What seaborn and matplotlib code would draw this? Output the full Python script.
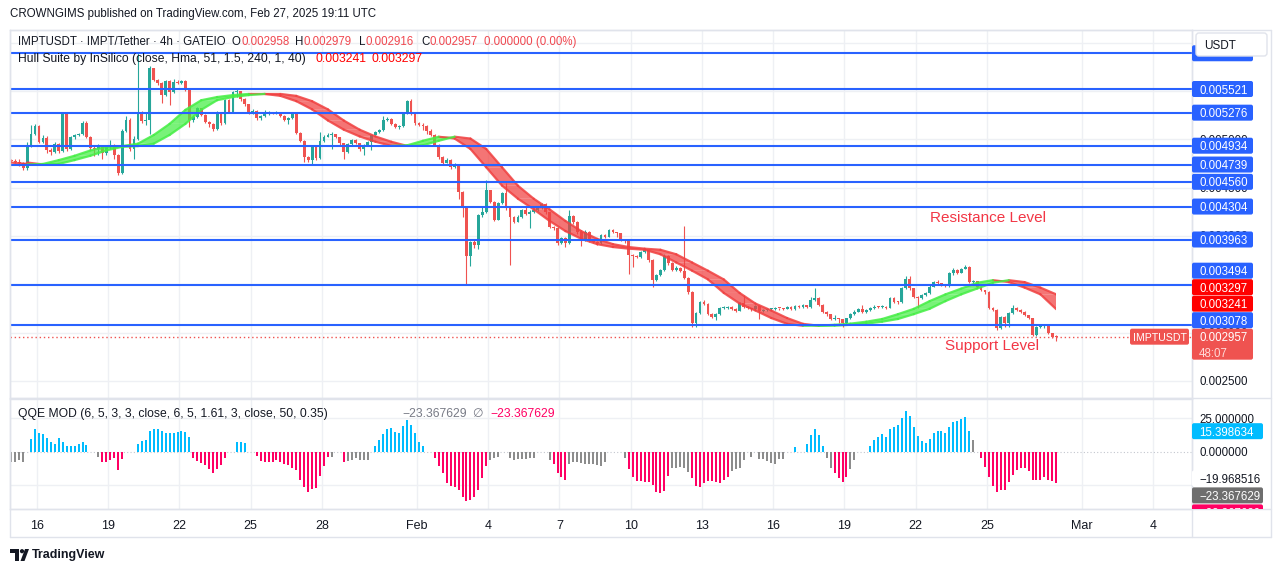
import numpy as np
import pandas as pd
import matplotlib
matplotlib.use("Agg")
import matplotlib.pyplot as plt
import matplotlib.dates as mdates
from matplotlib.patches import Rectangle, FancyBboxPatch, Polygon, Circle
from matplotlib.transforms import Bbox
import seaborn as sns

sns.set_theme(style="white")
plt.rcParams["font.family"] = ["Liberation Sans", "DejaVu Sans"]

# ---------------------------------------------------------------- data
SYMBOL = "IMPTUSDT"
bar_start = "2025-01-14 20:00"        # first 4h candle (open time)
PRICE_UNIT = 1e-6                     # candle / hull values are in millionths of USDT
first_open = 4790

closes = [
    4780, 4770, 4760, 4700, 4930, 5055, 5141, 4976, 5017, 4889,
    4870, 4951, 4882, 5279, 4900, 5020, 5040, 5055, 5172, 5027,
    4906, 4896, 4931, 4855, 4917, 4941, 4838, 4648, 5089, 5200,
    4900, 5000, 5269, 5190, 5200, 5735, 5614, 5580, 5460, 5600,
    5490, 5597, 5580, 5600, 5517, 5200, 5235, 5320, 5252, 5183,
    5158, 5110, 5276, 5165, 5407, 5286, 5493, 5500, 5420, 5365,
    5276, 5296, 5217, 5240, 5270, 5275, 5270, 5280, 5245, 5200,
    5225, 5260, 5069, 4982, 4820, 4786, 4924, 4803, 4982, 5027,
    5045, 5050, 5020, 4958, 4865, 4951, 4993, 4960, 4896, 4941,
    4975, 5045, 5080, 5096, 5200, 5210, 5160, 5130, 5140, 5269,
    5400, 5258, 5165, 5150, 5140, 5086, 5045, 4940, 4820, 4760,
    4790, 4710, 4730, 4458, 4303, 3792, 3940, 3906, 4216, 4251,
    4475, 4354, 4165, 4338, 4440, 4285, 4200, 4147, 4200, 4270,
    4230, 4250, 4270, 4290, 4330, 4245, 4096, 4080, 3924, 3975,
    3930, 4210, 4140, 4037, 3958, 4044, 3948, 3940, 3924, 4010,
    3993, 4062, 4037, 4027, 3958, 3950, 3803, 3790, 3785, 3830,
    3855, 3750, 3540, 3595, 3648, 3792, 3717, 3648, 3672, 3640,
    3560, 3416, 3095, 3199, 3313, 3300, 3190, 3165, 3190, 3250,
    3255, 3260, 3240, 3225, 3303, 3260, 3250, 3240, 3275, 3220,
    3235, 3240, 3245, 3250, 3250, 3245, 3268, 3240, 3278, 3265,
    3285, 3260, 3337, 3360, 3285, 3216, 3189, 3137, 3140, 3137,
    3095, 3147, 3189, 3216, 3244, 3215, 3230, 3251, 3268, 3260,
    3268, 3255, 3361, 3320, 3315, 3465, 3555, 3458, 3372, 3360,
    3389, 3406, 3475, 3520, 3510, 3495, 3480, 3613, 3648, 3620,
    3660, 3680, 3520, 3530, 3475, 3440, 3420, 3250, 3233, 3045,
    3164, 3100, 3200, 3250, 3235, 3215, 3180, 3150, 2975, 3060,
    3065, 3075, 2990, 2958, 2957,
]
highs = [
    4800, 4795, 4800, 4770, 4976, 5150, 5160, 5150, 5040, 5030,
    4910, 4970, 4960, 5285, 5285, 5030, 5060, 5070, 5185, 5190,
    5035, 4930, 4950, 4945, 4930, 4990, 4950, 4850, 5110, 5240,
    5220, 5030, 5900, 5290, 5280, 5760, 5740, 5625, 5590, 5610,
    5610, 5620, 5610, 5615, 5610, 5530, 5250, 5330, 5325, 5260,
    5190, 5165, 5290, 5280, 5420, 5415, 5505, 5520, 5505, 5430,
    5370, 5310, 5300, 5250, 5300, 5290, 5285, 5295, 5285, 5250,
    5235, 5275, 5265, 5075, 4990, 4830, 4940, 4930, 5072, 5040,
    5070, 5080, 5060, 5025, 4965, 4960, 5005, 5000, 4965, 4950,
    4985, 5060, 5090, 5110, 5240, 5230, 5220, 5170, 5150, 5280,
    5410, 5420, 5265, 5175, 5170, 5150, 5110, 5060, 4950, 4830,
    4810, 4800, 4760, 4740, 4470, 4310, 3950, 3960, 4230, 4300,
    4579, 4480, 4360, 4350, 4450, 4551, 4290, 4210, 4215, 4280,
    4300, 4270, 4285, 4310, 4345, 4340, 4250, 4105, 4090, 3990,
    3985, 4269, 4215, 4150, 4045, 4060, 4050, 3960, 3950, 4020,
    4020, 4075, 4070, 4045, 4035, 3965, 3960, 3815, 3800, 3840,
    3870, 3865, 3760, 3610, 3660, 3810, 3800, 3725, 3690, 3680,
    4103, 3570, 3425, 3210, 3325, 3340, 3310, 3200, 3200, 3260,
    3275, 3270, 3275, 3250, 3315, 3390, 3270, 3255, 3290, 3280,
    3245, 3250, 3255, 3262, 3258, 3258, 3278, 3275, 3290, 3285,
    3295, 3290, 3370, 3465, 3365, 3295, 3225, 3195, 3180, 3150,
    3145, 3155, 3200, 3230, 3255, 3280, 3245, 3265, 3280, 3275,
    3280, 3275, 3370, 3370, 3330, 3475, 3590, 3580, 3465, 3380,
    3400, 3420, 3490, 3530, 3540, 3515, 3500, 3625, 3665, 3655,
    3670, 3700, 3690, 3545, 3535, 3480, 3445, 3425, 3260, 3240,
    3175, 3170, 3210, 3290, 3260, 3240, 3220, 3185, 3155, 3070,
    3080, 3085, 3080, 2995, 2979,
]
lows = [
    4760, 4750, 4720, 4680, 4680, 4920, 5040, 4960, 4960, 4855,
    4840, 4860, 4860, 4870, 4880, 4890, 5000, 5030, 5040, 5010,
    4890, 4830, 4840, 4800, 4840, 4900, 4800, 4630, 4640, 5080,
    4880, 4800, 4990, 5170, 5150, 5050, 5600, 5560, 5375, 5450,
    5360, 5480, 5570, 5575, 5500, 5130, 5180, 5225, 5240, 5170,
    5130, 5090, 5100, 5150, 5155, 5270, 5280, 5440, 5400, 5350,
    5260, 5265, 5200, 5205, 5230, 5255, 5260, 5265, 5230, 5190,
    5160, 5215, 5060, 4970, 4769, 4770, 4734, 4790, 4795, 4975,
    5020, 4900, 5010, 4945, 4800, 4855, 4945, 4950, 4880, 4840,
    4935, 4890, 5040, 5070, 5090, 5185, 5150, 5120, 5110, 5130,
    5260, 5250, 5150, 5140, 5100, 5060, 5030, 4930, 4800, 4740,
    4750, 4690, 4700, 4378, 4200, 3502, 3692, 3880, 3860, 4200,
    4240, 4340, 4150, 4160, 4330, 4270, 3700, 4130, 4140, 4190,
    4215, 4080, 4240, 4260, 4280, 4230, 4080, 4060, 3910, 3915,
    3889, 3920, 4120, 4025, 3900, 3950, 3935, 3925, 3910, 3915,
    3980, 3985, 4030, 3990, 3945, 3930, 3606, 3680, 3770, 3775,
    3820, 3735, 3470, 3530, 3585, 3640, 3700, 3635, 3640, 3625,
    3550, 3400, 3060, 3060, 3190, 3285, 3180, 3150, 3130, 3180,
    3240, 3240, 3230, 3215, 3220, 3250, 3240, 3225, 3235, 3140,
    3210, 3225, 3230, 3235, 3235, 3235, 3240, 3230, 3235, 3255,
    3258, 3250, 3255, 3330, 3275, 3205, 3175, 3130, 3130, 3100,
    3060, 3090, 3140, 3180, 3210, 3205, 3205, 3225, 3245, 3250,
    3255, 3245, 3250, 3310, 3300, 3310, 3455, 3440, 3360, 3250,
    3350, 3380, 3400, 3470, 3500, 3485, 3470, 3475, 3600, 3610,
    3615, 3655, 3510, 3515, 3465, 3430, 3400, 3240, 3220, 3030,
    3040, 3060, 3060, 3190, 3225, 3205, 3170, 3140, 2960, 2960,
    3050, 3045, 2980, 2945, 2916,
]

# Hull Suite (HMA 51) centre line, read every 4th bar
hull_step = 4
hull_values = [
    4760, 4740, 4745, 4785, 4830, 4885, 4922, 4930, 4955, 5045,
    5160, 5305, 5405, 5438, 5458, 5470, 5470, 5450, 5395, 5310,
    5195, 5100, 5030, 4975, 4932, 4938, 4985, 5027, 5008, 4900,
    4710, 4520, 4385, 4275, 4155, 4050, 3970, 3915, 3885, 3868,
    3857, 3810, 3725, 3640, 3550, 3410, 3300, 3228, 3150, 3090,
    3070, 3071, 3080, 3092, 3112, 3140, 3190, 3245, 3325, 3395,
    3455, 3515, 3542, 3522, 3465, 3395, 3241,
]
hull_labels = [0.003297, 0.003241]

# horizontal support / resistance lines (the top one's label sits under the currency box)
hidden_level = 0.005891
level_prices = [0.005521, 0.005276, 0.004934, 0.004739,
                0.004560, 0.004304, 0.003963, 0.003494, 0.003078]
last_price = 0.002957
countdown = "48:07"
price_ticks = [0.0025, 0.0030, 0.0035, 0.0040, 0.0045, 0.0050, 0.0055, 0.0060]

# QQE MOD histogram (runs of colour / values, 4h bars)
qqe_runs = [
    ("g", [-8, -7.5, -6, -8]), ("-", 1),
    ("b", [9.6, 17, 14, 13, 10.4, 7, 6, 10, 7.6, 4.5, 4.5, 4.5, 5.6, 7.6, 5.3]), ("-", 2),
    ("g", [-4]), ("r", [-7.6, -7.6, -6.5, -5, -14, -5.5]), ("-", 3),
    ("b", [5.6, 8.3, 8.8, 15.2, 17.2, 17.2, 15.2, 13.9, 13.9, 13.9, 14.6, 15.2, 14.6, 11.1]),
    ("r", [-5, -7, -8.5, -10, -13, -16, -13, -10, -4.5]), ("-", 2),
    ("b", [7, 7, 6.5]), ("-", 2),
    ("r", [-3, -7, -7.5, -7.5, -7.5, -6, -7.5, -9, -10, -12, -14, -21, -26.5, -30, -28, -27, -18, -11, -4]),
    ("g", [-4]), ("-", 2), ("r", [-8]), ("g", [-7, -6.5, -5, -6.3, -6.3, -6.3]), ("-", 1),
    ("b", [4, 9, 13, 17, 18, 15, 14, 19, 23.5, 20, 14, 7.6, 4]), ("-", 2),
    ("r", [-5, -11, -16, -23.5, -26, -26.5, -29, -34, -37, -36, -34, -29, -20, -11]),
    ("g", [-6, -5, -4]), ("-", 2), ("g", [-5, -6.3, -5.8, -5.6, -5.3, -5, -4.5]), ("-", 3),
    ("g", [-6]), ("r", [-9, -16, -19, -21]),
    ("g", [-9.5, -7.5, -8, -8.5, -9, -9, -9.5, -10, -11, -7.5]), ("-", 4),
    ("g", [-5]), ("r", [-13, -19, -22, -22, -22.7, -22.7, -25, -30, -31, -29.5, -18.4]),
    ("g", [-12, -12, -11.4, -12, -15]),
    ("r", [-19.7, -25.8, -26.5, -23.5, -22, -22, -22.7, -23.5, -21, -19]),
    ("g", [-14.4, -13, -11.9, -6.3]), ("-", 1), ("g", [-3.8]), ("-", 1),
    ("g", [-5.6, -5.6, -6.8, -8.3, -9.3, -5.8, -5.6]), ("-", 2), ("b", [3.3]), ("-", 2),
    ("b", [5.8, 12.6, 16.9, 12.6, 4.3]), ("g", [-4.5, -12]), ("r", [-16, -19.7, -22.7, -19]),
    ("g", [-13, -6.3]), ("-", 3),
    ("b", [4.3, 8.8, 10.9, 13.4, 10.9, 16.9, 18.4, 20.2, 25.3, 30.8, 27, 18.4, 11.9, 8.1,
           6.8, 9.3, 13.9, 15.7, 15.7, 13.9, 18.4, 22.5, 23.2, 24.5, 26, 15.7]),
    ("g", [8.8]), ("-", 1),
    ("r", [-5, -11.4, -19, -25.3, -30.3, -28.3, -28.3, -22.7, -17.7, -13.9, -12, -12, -14.4,
           -21, -21.5, -21.5, -19, -21, -22, -23.4]),
]
qqe_ticks = [25, 0]
qqe_upper_label = 15.398634
qqe_line_label = -19.968516
qqe_last = -23.367629

tick_dates = ["2025-01-16", "2025-01-19", "2025-01-22", "2025-01-25", "2025-01-28",
              "2025-02-01", "2025-02-04", "2025-02-07", "2025-02-10", "2025-02-13",
              "2025-02-16", "2025-02-19", "2025-02-22", "2025-02-25", "2025-03-01",
              "2025-03-04"]
tick_labels = ["16", "19", "22", "25", "28", "Feb", "4", "7", "10", "13", "16", "19",
               "22", "25", "Mar", "4"]
view_start, view_end = "2025-01-14 20:43", "2025-03-05 15:10"

# ---------------------------------------------------------------- style
W, H = 1281, 573
UP, DN = "#26a69a", "#ef5350"
BLUE = "#2962ff"
HULL_UP, HULL_DN = "#45ee45", "#f04040"
GRID = "#eef0f4"
BORDER = "#e0e3eb"
TXT = "#131722"
Q_COL = {"b": "#00bcff", "r": "#ff0063", "g": "#8c8c8c"}

fig = plt.figure(figsize=(W / 100, H / 100), dpi=100, facecolor="white")


def frac_rect(x0, y0, x1, y1):
    return [x0 / W, 1 - y1 / H, (x1 - x0) / W, (y1 - y0) / H]


PT, PB, QT, QB, XL, XR = 30, 398, 399, 509, 10, 1192
ax = fig.add_axes(frac_rect(XL, PT, XR, PB))
axq = fig.add_axes(frac_rect(XL, QT, XR, QB), sharex=ax)
ov = fig.add_axes([0, 0, 1, 1])
ov.set_xlim(0, W)
ov.set_ylim(H, 0)
ov.axis("off")
ov.patch.set_visible(False)
ov.set_zorder(10)

P_LIM = (0.0023222, 0.0061318)
Q_LIM = (-42.9, 39.5)

# ---------------------------------------------------------------- time axis
opens_t = pd.date_range(bar_start, periods=len(closes), freq="4h")
t = mdates.date2num((opens_t + pd.Timedelta(hours=2)).to_pydatetime())
bar_w = (4 / 24) * 0.72
x0v = mdates.date2num(pd.Timestamp(view_start).to_pydatetime())
x1v = mdates.date2num(pd.Timestamp(view_end).to_pydatetime())
tick_num = mdates.date2num(pd.to_datetime(tick_dates).to_pydatetime())

for a in (ax, axq):
    a.set_xlim(x0v, x1v)
    a.set_facecolor("white")
    for s in a.spines.values():
        s.set_color(BORDER)
        s.set_linewidth(1)
    a.tick_params(left=False, right=False, labelleft=False, labelright=False)
    for tn in tick_num:
        a.axvline(tn, color=GRID, lw=1, zorder=0)
ax.set_ylim(*P_LIM)
axq.set_ylim(*Q_LIM)
ax.tick_params(bottom=False, labelbottom=False)
for v in price_ticks:
    ax.axhline(v, color=GRID, lw=1, zorder=0)

# ---------------------------------------------------------------- candles
c = np.array(closes) * PRICE_UNIT
o = np.concatenate([[first_open * PRICE_UNIT], c[:-1]])
hi = np.array(highs) * PRICE_UNIT
lo = np.array(lows) * PRICE_UNIT
col = np.where(c > o, UP, DN)
one_px = (P_LIM[1] - P_LIM[0]) / (PB - PT)
body_h = np.maximum(np.abs(c - o), one_px)
ax.vlines(t, lo, hi, colors=col, lw=0.8, zorder=2)
ax.bar(t, body_h, bottom=np.minimum(o, c), width=bar_w, color=col, edgecolor="none", zorder=2)

# ---------------------------------------------------------------- hull band
th = t[::hull_step]
hv = np.array(hull_values) * PRICE_UNIT
lag = hull_step * 4 / 24  # band offset (bars shifted)
clip_rect = Rectangle((x0v, P_LIM[0]), t[-1] - x0v, P_LIM[1] - P_LIM[0], transform=ax.transData)
rows = []
for k in range(len(hv) - 1):
    d = "up" if hv[k + 1] > hv[k] else "down"
    colr = HULL_UP if d == "up" else HULL_DN
    polys = ax.fill([th[k], th[k + 1], th[k + 1] + lag, th[k] + lag],
                    [hv[k], hv[k + 1], hv[k + 1], hv[k]], color=colr, alpha=0.72, lw=0, zorder=3)
    for p in polys:
        p.set_clip_path(clip_rect)
    rows += [dict(t=th[k], h=hv[k], seg=k, dir=d), dict(t=th[k + 1], h=hv[k + 1], seg=k, dir=d),
             dict(t=th[k] + lag, h=hv[k], seg=1000 + k, dir=d),
             dict(t=th[k + 1] + lag, h=hv[k + 1], seg=1000 + k, dir=d)]
edge_df = pd.DataFrame(rows)
n_before = len(ax.lines)
sns.lineplot(data=edge_df, x="t", y="h", hue="dir", units="seg", estimator=None, sort=False,
             palette={"up": HULL_UP, "down": HULL_DN}, legend=False, linewidth=1.6, ax=ax, zorder=3)
for ln in ax.lines[n_before:]:
    ln.set_clip_path(clip_rect)
    ln.set_alpha(0.85)
ax.set_xlabel("")
ax.set_ylabel("")

# ---------------------------------------------------------------- levels
for lv in [hidden_level] + level_prices:
    ax.axhline(lv, color=BLUE, lw=1.5, zorder=4)
ax.axhline(last_price, color=DN, lw=1, ls=(0, (1, 2)), zorder=4)

# ---------------------------------------------------------------- QQE histogram
q_vals, q_cols = [], []
for code, vals in qqe_runs:
    if code == "-":
        q_vals += [np.nan] * vals
        q_cols += ["none"] * vals
    else:
        q_vals += vals
        q_cols += [Q_COL[code]] * len(vals)
q_vals = np.array(q_vals, dtype=float)
tq = t[:len(q_vals)]
m = ~np.isnan(q_vals)
axq.bar(tq[m], q_vals[m], width=(4 / 24) * 0.5, color=np.array(q_cols)[m], edgecolor="none", zorder=2)
axq.axhline(0, color="#c3c6ce", lw=0.8, ls=(0, (1, 2)), zorder=1)
for v in (25, -25):
    axq.axhline(v, color=GRID, lw=1, zorder=0)
axq.set_xticks(tick_num)
axq.set_xticklabels(tick_labels, fontsize=9, color=TXT)
axq.tick_params(axis="x", length=0, pad=8, bottom=True, labelbottom=True)
axq.set_xlim(x0v, x1v)

# ---------------------------------------------------------------- overlay (pixel coords)
def py_price(v):
    return PT + (P_LIM[1] - v) / (P_LIM[1] - P_LIM[0]) * (PB - PT)


def py_qqe(v):
    return QT + (Q_LIM[1] - v) / (Q_LIM[1] - Q_LIM[0]) * (QB - QT)


# frame lines
for (xa, ya, xb, yb) in [(XL, PT, 1271, PT), (XL, PB, 1271, PB), (XL, QB, 1271, QB),
                         (XL, 537, 1271, 537), (XL, PT, XL, 537), (XR, PT, XR, 537),
                         (1271, PT, 1271, 537)]:
    ov.plot([xa, xb], [ya, yb], color=BORDER, lw=1, zorder=1)

ov.text(10, 14, "CROWNGIMS published on TradingView.com, Feb 27, 2025 19:11 UTC",
        fontsize=8.3, color=TXT, va="center", ha="left")

RED_T = "#f0474f"
for txt, x, cc in [("IMPTUSDT · IMPT/Tether · 4h · GATEIO", 18, TXT), ("O", 232, TXT),
                   ("0.002958", 241, RED_T), ("H", 295, TXT), ("0.002979", 304, RED_T),
                   ("L", 359, TXT), ("0.002916", 366, RED_T), ("C", 421, TXT),
                   ("0.002957", 430, RED_T), ("0.000000 (0.00%)", 484, RED_T)]:
    ov.text(x, 42, txt, fontsize=8.3, color=cc, va="center", ha="left")
for txt, x, cc in [("Hull Suite by InSilico (close, Hma, 51, 1.5, 240, 1, 40)", 18, TXT),
                   ("0.003241", 315, "#ff0000"), ("0.003297", 371, "#ff0000")]:
    ov.text(x, 59, txt, fontsize=8.7, color=cc, va="center", ha="left")
for txt, x, cc in [("QQE MOD (6, 5, 3, 3, close, 6, 5, 1.61, 3, close, 50, 0.35)", 18, TXT),
                   ("\u221223.367629", 402, "#787b86"), ("\u2205", 472, "#787b86"),
                   ("\u221223.367629", 490, "#ff0063")]:
    ov.text(x, 414, txt, fontsize=8.7, color=cc, va="center", ha="left")

ov.text(930, 218, "Resistance Level", fontsize=11, color="#f23645", va="center", ha="left")
ov.text(945, 346, "Support Level", fontsize=11, color="#f23645", va="center", ha="left")


def box(yc, text, fc, x0=1192, w=61, h=16, tc="white", z=3, clip=None):
    r = FancyBboxPatch((x0, yc - h / 2), w, h, boxstyle="round,pad=0,rounding_size=2",
                       facecolor=fc, edgecolor="none", zorder=z)
    ov.add_patch(r)
    tx = None
    if text:
        tx = ov.text(x0 + 7, yc, text, color=tc, fontsize=8.3, va="center_baseline", ha="left",
                     zorder=z + 0.5)
    if clip is not None:
        r.set_clip_box(clip)
        if tx is not None:
            tx.set_clip_box(clip)
            tx.set_clip_on(True)
    return r


# price scale tick labels
for v in price_ticks:
    ov.text(1199, py_price(v), f"{v:.6f}", fontsize=8.3, color=TXT, va="center_baseline",
            ha="left", zorder=2)

# price scale labels, stacked upward from the last-price label
ylast = py_price(last_price)
box(ylast + 7.5, "", DN, h=31, z=3)
ov.text(1199, ylast, f"{last_price:.6f}", color="white", fontsize=8.3, va="center_baseline", zorder=4)
ov.text(1199, ylast + 15.5, countdown, color="#ffd9d8", fontsize=8.3, va="center_baseline", zorder=4)
stack = sorted([(v, BLUE) for v in level_prices] + [(v, "#ff0000") for v in hull_labels],
               key=lambda p: p[0])
limit = ylast - 8
for v, fc in stack:
    yc = min(py_price(v), limit - 8.5)
    box(yc, f"{v:.6f}", fc, z=3)
    limit = yc - 8
# label of the top line, hidden under the currency box (only its lower edge peeks out)
box(py_price(hidden_level), "", BLUE, z=3)

# symbol tag left of the scale
ov.add_patch(FancyBboxPatch((1130, ylast - 8), 59, 16, boxstyle="round,pad=0,rounding_size=2",
                            facecolor=DN, edgecolor="none", zorder=3))
ov.text(1159.5, ylast, SYMBOL, color="white", fontsize=7.6, ha="center", va="center_baseline", zorder=4)

# currency box
ov.add_patch(FancyBboxPatch((1196, 33), 71, 23, boxstyle="round,pad=0,rounding_size=3",
                            facecolor="white", edgecolor=BORDER, lw=1, zorder=6))
ov.text(1204, 44.5, "USDT", fontsize=8.5, color=TXT, va="center_baseline", zorder=7)

# QQE scale labels
for v in qqe_ticks:
    ov.text(1199, py_qqe(v), f"{v:.6f}", fontsize=8.3, color=TXT, va="center_baseline", zorder=2)
qclip = Bbox.from_extents(XR, H - QB, 1271, H - QT)
box(py_qqe(qqe_upper_label), f"{qqe_upper_label:.6f}", "#00bcff", w=71, z=3)
yq = py_qqe(qqe_line_label)
box(yq, f"\u2212{abs(qqe_line_label):.6f}", "white", w=71, tc=TXT, z=3)
y2 = max(py_qqe(qqe_last), yq + 17)
box(y2, f"\u2212{abs(qqe_last):.6f}", "#6e6e6e", w=71, z=3, clip=qclip)
box(y2 + 17, f"\u2212{abs(qqe_last):.6f}", "#ff0063", w=71, z=3, clip=qclip)

# footer logo
ov.add_patch(Polygon([(10, 549), (19, 549), (19, 561), (15, 561), (15, 553), (10, 553)],
                     closed=True, facecolor=TXT, edgecolor="none"))
ov.add_patch(Circle((22, 551.2), 2.1, facecolor=TXT, edgecolor="none"))
ov.add_patch(Polygon([(20.5, 561), (25, 549), (29, 549), (24.5, 561)], closed=True,
                     facecolor=TXT, edgecolor="none"))
ov.text(32, 555, "TradingView", fontsize=9.0, color=TXT, va="center", ha="left", fontweight="bold")

fig.savefig("out.png", dpi=100, facecolor="white")
